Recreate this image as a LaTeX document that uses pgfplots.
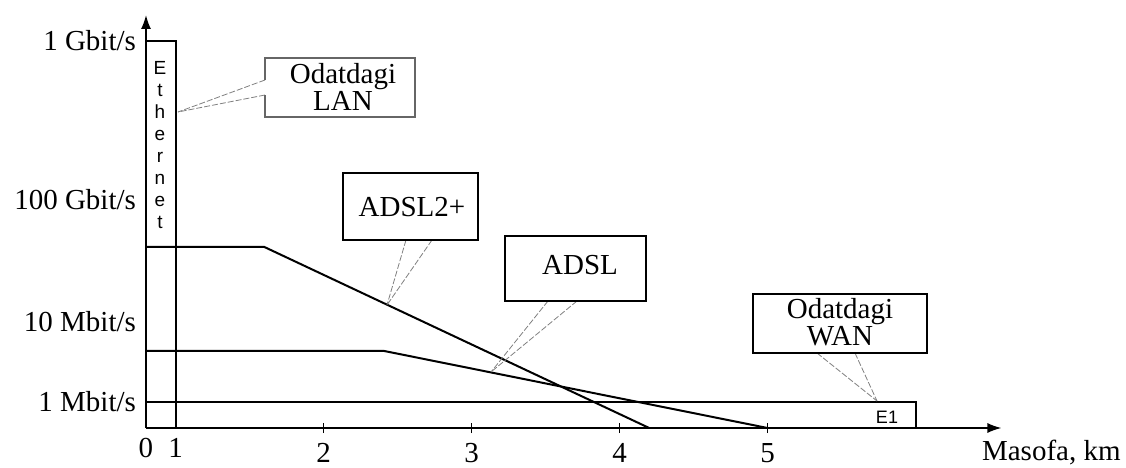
\documentclass[border=0pt]{standalone}
\usepackage{pgfplots}
\pgfplotsset{compat=1.18}
\usepackage{fontspec}
\setmainfont{Liberation Serif}
\setsansfont{Liberation Sans}
\usetikzlibrary{arrows.meta}
\newcommand{\lbl}{\fontsize{14.5}{10.5}\selectfont}
\begin{document}
\begin{tikzpicture}
\useasboundingbox (-73pt,-19.5pt) rectangle (490pt,214pt);
\begin{scope}
\clip (-73pt,-19.5pt) rectangle (490pt,214pt);
\begin{axis}[
  x=74pt, y=0.5pt,
  xmin=0, xmax=5.78, ymin=0, ymax=413,
  enlargelimits=false,
  axis lines=left,
  axis line style={line width=0.8pt, -{Latex[length=7pt,width=5pt]}},
  xtick={0,0.2}, xticklabels={0,1},
  extra x ticks={1.2,2.2,3.2,4.2},
  extra x tick labels={2,3,4,5},
  extra x tick style={major tick length=5pt, tick align=center},
  major tick length=0pt,
  ytick={26,106,228,387},
  yticklabels={1 Mbit/s,10 Mbit/s,100 Gbit/s,1 Gbit/s},
  tick label style={font=\lbl},
  xticklabel style={yshift=-1.5pt},
  yticklabel style={xshift=-1.5pt},
  tick style={black, line width=0.6pt},
  clip=false,
]
% Ethernet
\addplot[black, line width=1pt] coordinates {(0,387) (0.2,387) (0.2,0)};
% ADSL2+
\addplot[black, line width=1pt] coordinates {(0,181) (0.80,181) (3.40,0)};
% ADSL
\addplot[black, line width=1pt] coordinates {(0,77) (1.61,77) (4.2,0)};
% E1 (Odatdagi WAN)
\addplot[black, line width=1pt] coordinates {(0,26) (5.2,26) (5.2,0)};
\end{axis}
\begin{scope}[shift={(-73pt,214pt)}, x=0.5pt, y=-0.5pt]
  % callout lines
  \begin{scope}[gray, line width=0.4pt, dash pattern=on 3pt off 1pt]
    \draw (265,80) -- (178,112);
    \draw (265,95) -- (178,112);
    \draw (406,240) -- (387,305);
    \draw (432,240) -- (387,305);
    \draw (548,301) -- (491,372);
    \draw (577,301) -- (491,372);
    \draw (817,353) -- (877,401);
    \draw (855,353) -- (877,401);
  \end{scope}
  % LAN box with notch
  \draw[gray!80!black, line width=0.6pt] (265,80) -- (265,58) -- (415,58) -- (415,117) -- (265,117) -- (265,95);
  \draw[black, line width=0.8pt] (343,173) rectangle (478,240);
  \draw[black, line width=0.8pt] (505,236) rectangle (646,301);
  \draw[black, line width=0.8pt] (753,294) rectangle (927,353);
  \node[font=\lbl, align=center] at (343,87) {Odatdagi\\LAN};
  \node[font=\lbl] at (412,207) {ADSL2+};
  \node[font=\lbl] at (580,265) {ADSL};
  \node[font=\lbl, align=center] at (840,322) {Odatdagi\\WAN};
  \node[font=\lbl, anchor=west] at (975,453) {Masofa, km};
  \node[font=\sffamily\fontsize{9.5}{11}\selectfont, align=center] at (160,145) {E\\t\\h\\e\\r\\n\\e\\t};
  \node[font=\sffamily\fontsize{9}{11}\selectfont] at (887,417) {E1};
\end{scope}
\end{scope}
\end{tikzpicture}
\end{document}
